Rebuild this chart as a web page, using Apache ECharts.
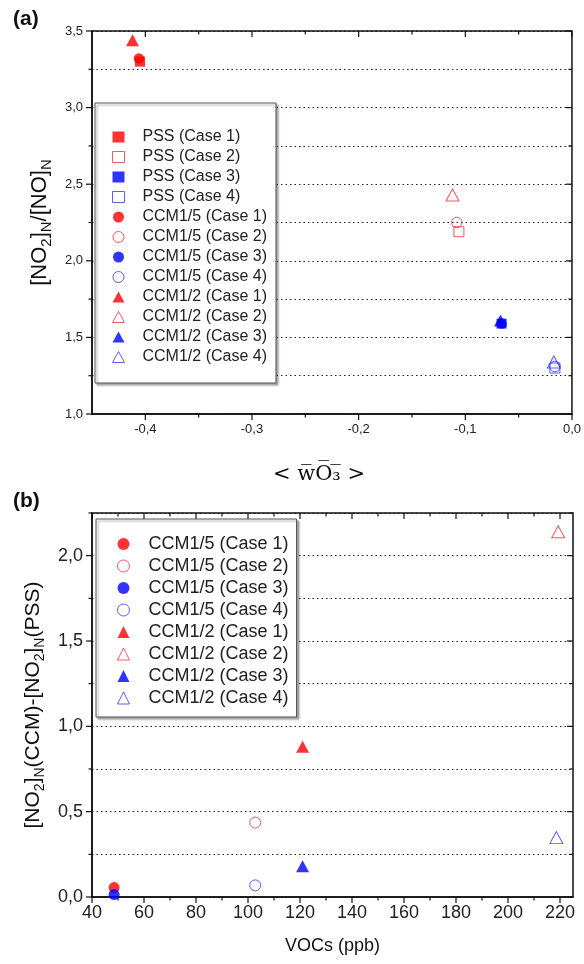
<!DOCTYPE html>
<html><head><meta charset="utf-8">
<script src="https://cdn.jsdelivr.net/npm/echarts@6/dist/echarts.min.js"></script>
<style>html,body{margin:0;padding:0;background:#fff}#c{width:584px;height:964px}</style>
</head><body><div id="c"></div><script>
// ---------- data ----------
const topNames = ['PSS (Case 1)','PSS (Case 2)','PSS (Case 3)','PSS (Case 4)',
  'CCM1/5 (Case 1)','CCM1/5 (Case 2)','CCM1/5 (Case 3)','CCM1/5 (Case 4)',
  'CCM1/2 (Case 1)','CCM1/2 (Case 2)','CCM1/2 (Case 3)','CCM1/2 (Case 4)'];
const topWO3 = [-0.405, -0.106, -0.066, -0.016, -0.406, -0.108, -0.066, -0.016, -0.412, -0.112, -0.067, -0.017];
const topRatio = [3.30, 2.19, 1.59, 1.30, 3.32, 2.25, 1.59, 1.31, 3.44, 2.43, 1.61, 1.34];

const botNames = ['CCM1/5 (Case 1)','CCM1/5 (Case 2)','CCM1/5 (Case 3)','CCM1/5 (Case 4)',
  'CCM1/2 (Case 1)','CCM1/2 (Case 2)','CCM1/2 (Case 3)','CCM1/2 (Case 4)'];
const botVOCs = [48.5, 102.8, 48.5, 102.8, 121, 219.3, 121, 218.6];
const botDiff = [0.055, 0.436, 0.014, 0.068, 0.88, 2.14, 0.18, 0.348];

const xMajTop = [-0.4, -0.3, -0.2, -0.1, 0];
const xMinTop = [-0.35, -0.25, -0.15, -0.05];
const yMajTop = [1, 1.5, 2, 2.5, 3, 3.5];
const yMinTop = [1.25, 1.75, 2.25, 2.75, 3.25];
const xMajBot = [40, 60, 80, 100, 120, 140, 160, 180, 200, 220];
const xMinBot = [50, 70, 90, 110, 130, 150, 170, 190, 210];
const yMajBot = [0, 0.5, 1, 1.5, 2];
const yMinBot = [0.25, 0.75, 1.25, 1.75, 2.25];

// ---------- styles ----------
const caseColors = ['#ff0000', '#e8323c', '#0000ff', '#3535ee'];
const caseFilled = [true, false, true, false];
const FONT = 'Liberation Sans';
function shapeOf(name) { return name.startsWith('PSS') ? 'rect' : (name.indexOf('1/5') >= 0 ? 'circle' : 'triangle'); }
function caseOf(name) { return parseInt(name.match(/Case (\d)/)[1], 10) - 1; }
function itemStyleOf(name) {
  const c = caseOf(name), col = caseColors[c];
  return caseFilled[c] ? { color: col, borderWidth: 0 } : { color: 'rgba(255,255,255,0)', borderColor: col, borderWidth: 1 };
}
const comma = v => (Math.abs(v) < 1e-9 ? 0 : v).toFixed(1).replace('.', ',');

// one panel = main grid (labels, names) + overlaid grid for dotted grid lines
let gridCount = 0;
function panel(rect, xr, yr, xMaj, yMaj, lblSize, xFmt) {
  const offs = gridCount; gridCount += 2;
  const grids = [Object.assign({}, rect), Object.assign({}, rect)];
  const xs = [
    { type: 'value', gridIndex: offs, min: xr[0], max: xr[1], position: 'bottom', splitLine: { show: false },
      axisLine: { show: true, onZero: false, lineStyle: { color: '#111', width: 1.5 } }, axisTick: { show: false },
      axisLabel: { show: true, customValues: xMaj, formatter: xFmt, fontSize: lblSize, fontFamily: FONT, color: '#222', margin: lblSize < 15 ? 9 : 7 } },
    { type: 'value', gridIndex: offs + 1, min: xr[0], max: xr[1], position: 'bottom', splitLine: { show: false },
      axisLine: { show: false }, axisTick: { show: false }, axisLabel: { show: false } }
  ];
  const ys = [
    { type: 'value', gridIndex: offs, min: yr[0], max: yr[1], position: 'left', splitLine: { show: false },
      axisLine: { show: true, onZero: false, lineStyle: { color: '#111', width: 1.5 } }, axisTick: { show: false },
      axisLabel: { show: true, customValues: yMaj, formatter: comma, fontSize: lblSize, fontFamily: FONT, color: '#222', margin: 9 } },
    { type: 'value', gridIndex: offs + 1, min: yr[0], max: yr[1], position: 'left', interval: 0.25,
      axisLine: { show: false }, axisTick: { show: false }, axisLabel: { show: false },
      splitLine: { show: true, lineStyle: { color: '#222', width: 1, type: [1.5, 3] } } }
  ];
  return { grids, xs, ys, main: offs };
}

const pTop = panel({ left: 92, top: 31, width: 480, height: 383 }, [-0.45, 0], [1, 3.5], xMajTop, yMajTop, 13, comma);
const pBot = panel({ left: 92, top: 513, width: 481, height: 384 }, [40, 225], [0, 2.25], xMajBot, yMajBot, 18, v => String(v));

// frame and tick marks drawn through the axes' scales (custom series)
function frameSeries(p, xr, yr, xMaj, xMin, yMaj, yMin) {
  const data = [[xr[0], 4]];
  xMaj.forEach(v => data.push([v, 0]));
  xMin.forEach(v => data.push([v, 1]));
  yMaj.forEach(v => data.push([v, 2]));
  yMin.forEach(v => data.push([v, 3]));
  const S = { stroke: '#111', lineWidth: 1.2 };
  return {
    type: 'custom', xAxisIndex: p.main, yAxisIndex: p.main, clip: false, silent: true, z: 4,
    encode: { x: 0, y: 1 }, data: data,
    renderItem: function (params, api) {
      const v = api.value(0), t = api.value(1);
      if (t === 4) {
        const a = api.coord([xr[0], yr[1]]), b = api.coord([xr[1], yr[0]]);
        return { type: 'rect', shape: { x: a[0], y: a[1], width: b[0] - a[0], height: b[1] - a[1] },
          style: { fill: 'none', stroke: '#111', lineWidth: 1.5 } };
      }
      const len = (t === 0 || t === 2) ? 6 : 3.5;
      if (t < 2) {
        const b = api.coord([v, yr[0]]), tp = api.coord([v, yr[1]]);
        return { type: 'group', children: [
          { type: 'line', shape: { x1: b[0], y1: b[1], x2: b[0], y2: b[1] + len }, style: S },
          { type: 'line', shape: { x1: tp[0], y1: tp[1], x2: tp[0], y2: tp[1] + len }, style: S } ] };
      }
      const l = api.coord([xr[0], v]), r = api.coord([xr[1], v]);
      return { type: 'group', children: [
        { type: 'line', shape: { x1: l[0] - len, y1: l[1], x2: l[0], y2: l[1] }, style: S },
        { type: 'line', shape: { x1: r[0] - len, y1: r[1], x2: r[0], y2: r[1] }, style: S } ] };
    }
  };
}

const subRich = (m, s) => ({ m: { fontFamily: FONT, fontSize: m, color: '#111', lineHeight: 28 },
  s: { fontFamily: FONT, fontSize: s, color: '#111', lineHeight: 14, verticalAlign: 'bottom' } });

Object.assign(pTop.xs[0], { name: '{a|< w\u0305O\u0305\u2083\u0305 >}', nameLocation: 'middle', nameGap: 50,
  nameTextStyle: { padding: [0, 26, 0, 0], rich: { a: { fontFamily: 'DejaVu Serif', fontSize: 21, color: '#111' } } } });
Object.assign(pTop.ys[0], { name: '{m|[NO}{s|2}{m|]}{s|N}{m|/[NO]}{s|N}', nameLocation: 'middle', nameGap: 36,
  nameTextStyle: { rich: subRich(22, 15) } });
Object.assign(pBot.xs[0], { name: 'VOCs (ppb)', nameLocation: 'middle', nameGap: 40,
  nameTextStyle: { fontFamily: FONT, fontSize: 18, color: '#111' } });
Object.assign(pBot.ys[0], { name: '{m|[NO}{s|2}{m|]}{s|N}{m|(CCM)-[NO}{s|2}{m|]}{s|N}{m|(PSS)}', nameLocation: 'middle', nameGap: 40,
  nameTextStyle: { rich: subRich(21, 14) } });

const series = [
  frameSeries(pTop, [-0.45, 0], [1, 3.5], xMajTop, xMinTop, yMajTop, yMinTop),
  frameSeries(pBot, [40, 225], [0, 2.25], xMajBot, xMinBot, yMajBot, yMinBot)
];
topNames.forEach((n, i) => {
  const sh = shapeOf(n);
  series.push({ type: 'scatter', name: n, xAxisIndex: pTop.main, yAxisIndex: pTop.main, symbol: sh,
    symbolSize: sh === 'rect' ? 10 : (sh === 'circle' ? 10.5 : [13, 12]),
    itemStyle: itemStyleOf(n), data: [[topWO3[i], topRatio[i]]], z: 5 });
});
botNames.forEach((n, i) => {
  const sh = shapeOf(n);
  series.push({ type: 'scatter', name: n, xAxisIndex: pBot.main, yAxisIndex: pBot.main, symbol: sh,
    symbolSize: sh === 'circle' ? 11 : [13, 12],
    itemStyle: itemStyleOf(n), data: [[botVOCs[i], botDiff[i]]], z: 5 });
});

function legendData(names) {
  return names.map(n => ({ name: n, icon: shapeOf(n), itemStyle: itemStyleOf(n) }));
}
const legendBox = { orient: 'vertical', backgroundColor: '#fff', borderColor: '#555', borderWidth: 1,
  shadowColor: 'rgba(0,0,0,0.35)', shadowBlur: 2, shadowOffsetX: 2, shadowOffsetY: 2,
  itemWidth: 12, selectedMode: false, z: 10 };

const option = {
  animation: false,
  backgroundColor: '#fff',
  title: [
    { text: '(a)', left: 8, top: 4, textStyle: { fontFamily: FONT, fontSize: 21, fontWeight: 'bold', color: '#111' } },
    { text: '(b)', left: 8, top: 486, textStyle: { fontFamily: FONT, fontSize: 21, fontWeight: 'bold', color: '#111' } }
  ],
  grid: pTop.grids.concat(pBot.grids),
  legend: [
    Object.assign({}, legendBox, { left: 95, top: 103, itemHeight: 11, itemGap: 4, padding: [26, 9, 18, 17],
      textStyle: { fontFamily: FONT, fontSize: 16, color: '#222', padding: [0, 0, 0, 13] }, data: legendData(topNames) }),
    Object.assign({}, legendBox, { left: 96, top: 519, itemHeight: 12, itemGap: 4, padding: [16, 8, 10, 21],
      textStyle: { fontFamily: FONT, fontSize: 18, color: '#222', padding: [0, 0, 0, 14] }, data: legendData(botNames) })
  ],
  xAxis: pTop.xs.concat(pBot.xs),
  yAxis: pTop.ys.concat(pBot.ys),
  series: series
};
echarts.init(document.getElementById('c'), null, { renderer: 'canvas' }).setOption(option);
</script></body></html>
